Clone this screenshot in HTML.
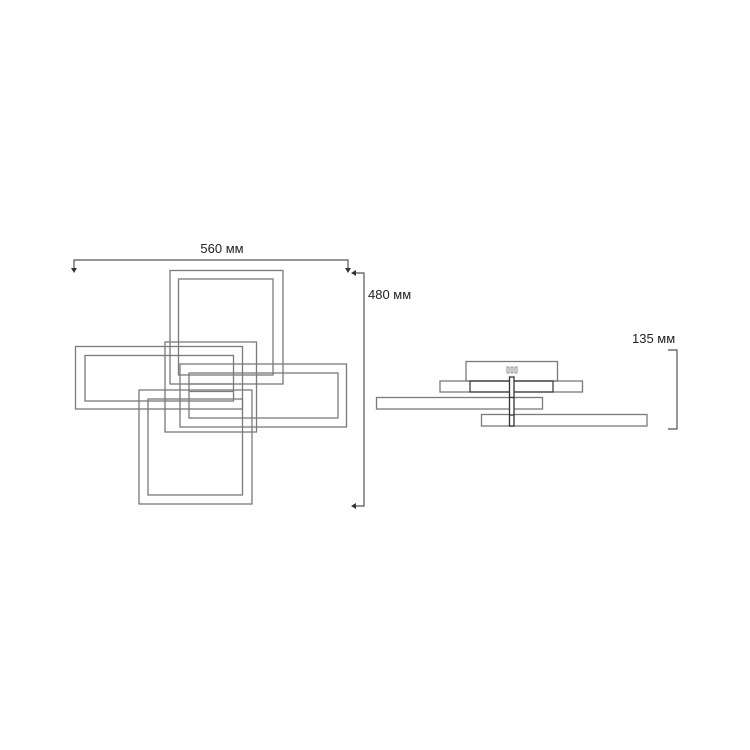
<!DOCTYPE html>
<html><head><meta charset="utf-8"><style>
html,body{margin:0;padding:0;background:#fff;}
svg{display:block}
text{font-family:"Liberation Sans",sans-serif;font-size:13px;fill:#222}
</style></head><body>
<svg width="750" height="750" viewBox="0 0 750 750" xmlns="http://www.w3.org/2000/svg">
<g fill="none" stroke="#7a7a7a" stroke-width="1.3">
<!-- top frame -->
<rect x="170" y="270.5" width="113" height="113.5"/>
<rect x="178.5" y="279" width="94.5" height="96"/>
<!-- middle square -->
<rect x="165" y="342" width="91.5" height="90"/>
<!-- left frame -->
<rect x="75.5" y="346.5" width="167" height="62.5"/>
<rect x="85" y="355.5" width="148.5" height="45.5"/>
<!-- right frame -->
<rect x="180" y="364" width="166.5" height="63"/>
<rect x="189" y="373" width="149" height="45"/>
<!-- bottom frame -->
<rect x="139" y="390" width="113" height="114"/>
<rect x="148" y="399" width="94.5" height="96"/>
<line x1="189" y1="384" x2="233" y2="384"/>
<line x1="189" y1="391.5" x2="233" y2="391.5"/>
<!-- side view -->
<rect x="466" y="361.5" width="91.5" height="19.5"/>
<rect x="440" y="381" width="142.5" height="11"/>
<rect x="470" y="381" width="83" height="11" stroke="#444"/>
<rect x="376.5" y="397.5" width="166" height="11.5"/>
<rect x="481.5" y="414.5" width="165.5" height="11.5"/>
<rect x="509.5" y="377" width="4.5" height="49" stroke="#333" fill="#fff"/>
<line x1="509.5" y1="397.5" x2="514" y2="397.5" stroke="#333"/>
<line x1="509.5" y1="415" x2="514" y2="415" stroke="#333"/>
<rect x="507" y="367" width="2" height="6" stroke-width="0.8"/>
<rect x="511" y="367" width="2" height="6" stroke-width="0.8"/>
<rect x="515" y="367" width="2" height="6" stroke-width="0.8"/>
</g>
<g fill="none" stroke="#555" stroke-width="1.2">
<polyline points="74,270 74,260 348,260 348,270"/>
<polyline points="354,273 364,273 364,506 354,506"/>
<polyline points="668,350 677,350 677,429 668,429"/>
</g>
<g fill="#333">
<polygon points="71,268 77,268 74,273"/>
<polygon points="345,268 351,268 348,273"/>
<polygon points="351,273 356,270 356,276"/>
<polygon points="351,506 356,503 356,509"/>
</g>
<text x="222" y="253" text-anchor="middle">560 мм</text>
<text x="368" y="299">480 мм</text>
<text x="632" y="343">135 мм</text>
</svg>
</body></html>
